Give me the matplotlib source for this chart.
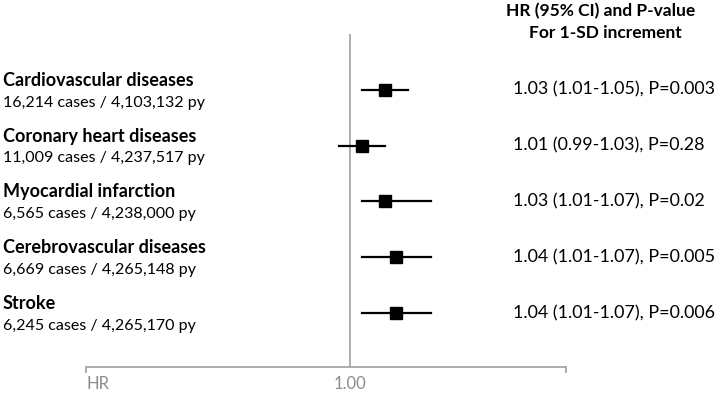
import matplotlib.pyplot as plt
import matplotlib.transforms as mtransforms

# data
outcomes = ["Cardiovascular diseases", "Coronary heart diseases", "Myocardial infarction",
            "Cerebrovascular diseases", "Stroke"]
cases = ["16,214 cases / 4,103,132 py", "11,009 cases / 4,237,517 py",
         "6,565 cases / 4,238,000 py", "6,669 cases / 4,265,148 py",
         "6,245 cases / 4,265,170 py"]
hr = [1.03, 1.01, 1.03, 1.04, 1.04]
lower = [1.01, 0.99, 1.01, 1.01, 1.01]
upper = [1.05, 1.03, 1.07, 1.07, 1.07]
pvals = ["0.003", "0.28", "0.02", "0.005", "0.006"]

plt.rcParams['font.family'] = ['Lato', 'DejaVu Sans']

W, H = 715, 393
fig = plt.figure(figsize=(W / 100, H / 100), dpi=100)
# axes placed in pixel terms
ax_l, ax_r, ax_t, ax_b = 86, 566, 34, 367
ax = fig.add_axes([ax_l / W, 1 - ax_b / H, (ax_r - ax_l) / W, (ax_b - ax_t) / H])

xmin, xmax = 0.7704, 1.1878
ax.set_xlim(xmin, xmax)
ax.set_ylim(0.03, 6.0)

n = len(hr)
ypos = [n - i for i in range(n)]

grey = "#a6a6a6"
ax.axvline(1.0, color=grey, lw=1.3, zorder=1)

for y, h, lo, up in zip(ypos, hr, lower, upper):
    ax.plot([lo, up], [y, y], color="black", lw=1.6, zorder=2)
    ax.plot(h, y, marker="s", ms=8, color="black", zorder=3)

for s in ["top", "right", "left"]:
    ax.spines[s].set_visible(False)
ax.spines["bottom"].set_color(grey)
ax.spines["bottom"].set_linewidth(1.3)
ax.set_yticks([])
ax.set_xticks([xmin, xmax])
ax.set_xticklabels(["", ""])
ax.tick_params(axis="x", direction="out", length=4, width=1.3, color=grey)

ax.text(xmin, -0.27, "HR", ha="left", va="center", color="#8c8c8c", fontsize=12)
ax.text(1.0, -0.27, "1.00", ha="center", va="center", color="#8c8c8c", fontsize=12)

trans = mtransforms.blended_transform_factory(fig.transFigure, ax.transData)
for y, name, c, h, lo, up, p in zip(ypos, outcomes, cases, hr, lower, upper, pvals):
    ax.text(3 / W, y + 0.17, name, transform=trans, ha="left", va="center",
            fontsize=13, fontweight="bold", color="black", clip_on=False)
    ax.text(3 / W, y - 0.23, c, transform=trans, ha="left", va="center",
            fontsize=11.5, color="black", clip_on=False)
    ax.text(513 / W, y, f"{h:.2f} ({lo:.2f}-{up:.2f}), P={p}", transform=trans,
            ha="left", va="center", fontsize=12.9, color="black", clip_on=False)

fig.text(601 / W, 1 - 11 / H, "HR (95% CI) and P-value", ha="center", va="center",
         fontsize=12.5, fontweight="bold")
fig.text(605 / W, 1 - 33 / H, "For 1-SD increment", ha="center", va="center",
         fontsize=12.5, fontweight="bold")

fig.savefig("out.png", dpi=100)
